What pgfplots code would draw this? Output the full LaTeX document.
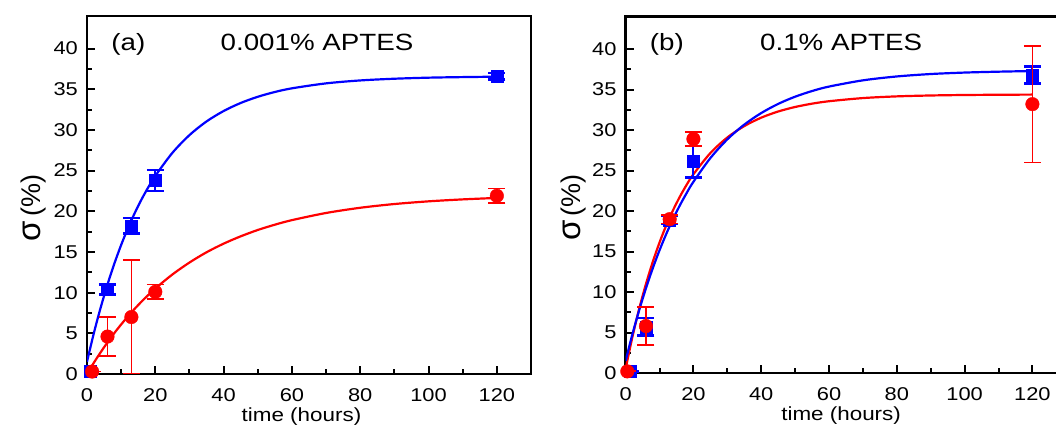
\documentclass[border=0pt]{standalone}
\usepackage{pgfplots}
\pgfplotsset{compat=1.18}
\usepackage{fontspec}
\setmainfont{Liberation Sans}[FakeStretch=1.18]
\newfontfamily\plainsans{Liberation Sans}
\definecolor{cblue}{RGB}{0,0,255}
\definecolor{cred}{RGB}{255,0,0}

\pgfplotsset{
  panel/.style={
    scale only axis,
    xmin=0, xmax=130, ymin=0, ymax=44,
    xtick={0,20,...,120}, minor x tick num=1,
    ytick={0,5,...,40}, minor y tick num=1,
    tick pos=left,
    tick align=inside,
    major tick length=8pt, minor tick length=5pt,
    every tick/.style={black, line width=2pt},
    axis line style={line width=2.5pt},
    ticklabel style={font=\fontsize{18.5}{20}\selectfont},
    /pgf/number format/assume math mode=true,
    xticklabel style={anchor=base, inner sep=0pt, yshift=-28pt},
    yticklabel style={anchor=east, inner sep=0pt, xshift=-9pt},
    xlabel={time (hours)},
    xlabel style={font=\fontsize{19}{20}\selectfont, anchor=center},
    ylabel={{\plainsans\fontsize{33}{33}\selectfont σ}\hspace{4pt}{\plainsans\fontsize{27}{27}\selectfont(\%)}},
    ylabel style={anchor=center},
    clip mode=individual,
  },
  bluefit/.style={cblue, line width=2.2pt, no marks, smooth},
  redfit/.style={cred, line width=2.2pt, no marks, smooth},
  bluepts/.style={only marks, mark=square*, mark size=6pt, cblue,
    mark options={fill=cblue, draw=cblue},
    error bars/.cd, y dir=both, y explicit,
    error bar style={line width=2pt, cblue},
    error mark options={rotate=90, line width=2.5pt, mark size=8.5pt, cblue}},
  redpts/.style={only marks, mark=*, mark size=6.8pt, cred,
    mark options={fill=cred, draw=cred},
    error bars/.cd, y dir=both, y explicit,
    error bar style={line width=1.8pt, cred},
    error mark options={rotate=90, line width=1.8pt, mark size=8.5pt, cred}},
}

\begin{document}
\begin{tikzpicture}
% ---------- panel (a) ----------
\begin{axis}[panel,
  at={(87pt,53pt)}, anchor=south west,
  width=444pt, height=358pt,
  xlabel style={at={(axis description cs:0.483,-0.12)}},
  ylabel style={at={(axis description cs:-0.1205,0.464)}},
]
\addplot[bluefit] coordinates {
(0,1.5) (2,5.01) (4,8.16) (6,11.00) (8,13.56) (10,15.86) (12,17.93) (14,19.80)
(16,21.48) (18,22.99) (20,24.35) (25,27.18) (30,29.36) (35,31.04) (40,32.32)
(45,33.31) (50,34.07) (55,34.66) (60,35.11) (70,35.72) (80,36.08) (90,36.29)
(100,36.42) (110,36.49) (120,36.54)};
\addplot[redfit] coordinates {
(0,0) (2,1.38) (4,2.67) (6,3.89) (8,5.03) (10,6.09) (12,7.09) (14,8.03)
(16,8.91) (18,9.73) (20,10.51) (25,12.23) (30,13.70) (35,14.96) (40,16.02)
(45,16.92) (50,17.70) (55,18.35) (60,18.91) (70,19.79) (80,20.43) (90,20.89)
(100,21.22) (110,21.46) (120,21.64)};
\addplot[bluepts] coordinates {
(1,0.3) +- (0,0)
(6,10.4) +- (0,0.6)
(13,18.2) +- (0,0.95)
(20,23.8) +- (0,1.3)
(120,36.6) +- (0,0.4)};
\addplot[redpts] coordinates {
(1.5,0.3) +- (0,0)
(6,4.6) +- (0,2.4)
(13,7.0) +- (0,7.0)
(20,10.1) +- (0,0.9)
(120,21.9) +- (0,0.9)};
\node[anchor=base west, font=\fontsize{23.5}{24}\selectfont] at (rel axis cs:0.047,0.905) {(a)};
\node[anchor=base, font=\fontsize{23.5}{24}\selectfont] at (rel axis cs:0.518,0.905) {0.001\% APTES};
\end{axis}
% ---------- panel (b) ----------
\begin{axis}[panel,
  at={(625.6pt,54pt)}, anchor=south west,
  width=440.7pt, height=356.3pt,
  xlabel style={at={(axis description cs:0.489,-0.12)}},
  ylabel style={at={(axis description cs:-0.118,0.464)}},
]
\addplot[redfit] coordinates {
(0,0.5) (2,4.44) (4,7.92) (6,10.99) (8,13.71) (10,16.11) (12,18.24) (14,20.11)
(16,21.77) (18,23.24) (20,24.54) (25,27.16) (30,29.08) (35,30.49) (40,31.53)
(45,32.29) (50,32.85) (55,33.26) (60,33.56) (70,33.95) (80,34.16) (90,34.27)
(100,34.33) (110,34.36) (120,34.38)};
\addplot[bluefit] coordinates {
(0,1.5) (2,4.78) (4,7.75) (6,10.46) (8,12.92) (10,15.15) (12,17.18) (14,19.03)
(16,20.70) (18,22.22) (20,23.61) (25,26.54) (30,28.85) (35,30.67) (40,32.10)
(45,33.23) (50,34.12) (55,34.82) (60,35.37) (70,36.14) (80,36.62) (90,36.92)
(100,37.10) (110,37.21) (120,37.29)};
\addplot[bluepts] coordinates {
(1.5,0.2) +- (0,0)
(6,5.7) +- (0,1.1)
(13,18.9) +- (0,0.5)
(20,26.1) +- (0,1.95)
(120,36.8) +- (0,1.05)};
\addplot[redpts] coordinates {
(0.5,0.2) +- (0,0)
(6,5.8) +- (0,2.35)
(13,19.0) +- (0,0.55)
(20,28.9) +- (0,0.9)
(120,33.2) +- (0,7.2)};
\node[anchor=base west, font=\fontsize{23.5}{24}\selectfont] at (rel axis cs:0.047,0.905) {(b)};
\node[anchor=base, font=\fontsize{23.5}{24}\selectfont] at (rel axis cs:0.489,0.905) {0.1\% APTES};
\end{axis}
\pgfresetboundingbox
\path[use as bounding box] (0pt,0pt) rectangle (1056pt,427pt);
\end{tikzpicture}
\end{document}
